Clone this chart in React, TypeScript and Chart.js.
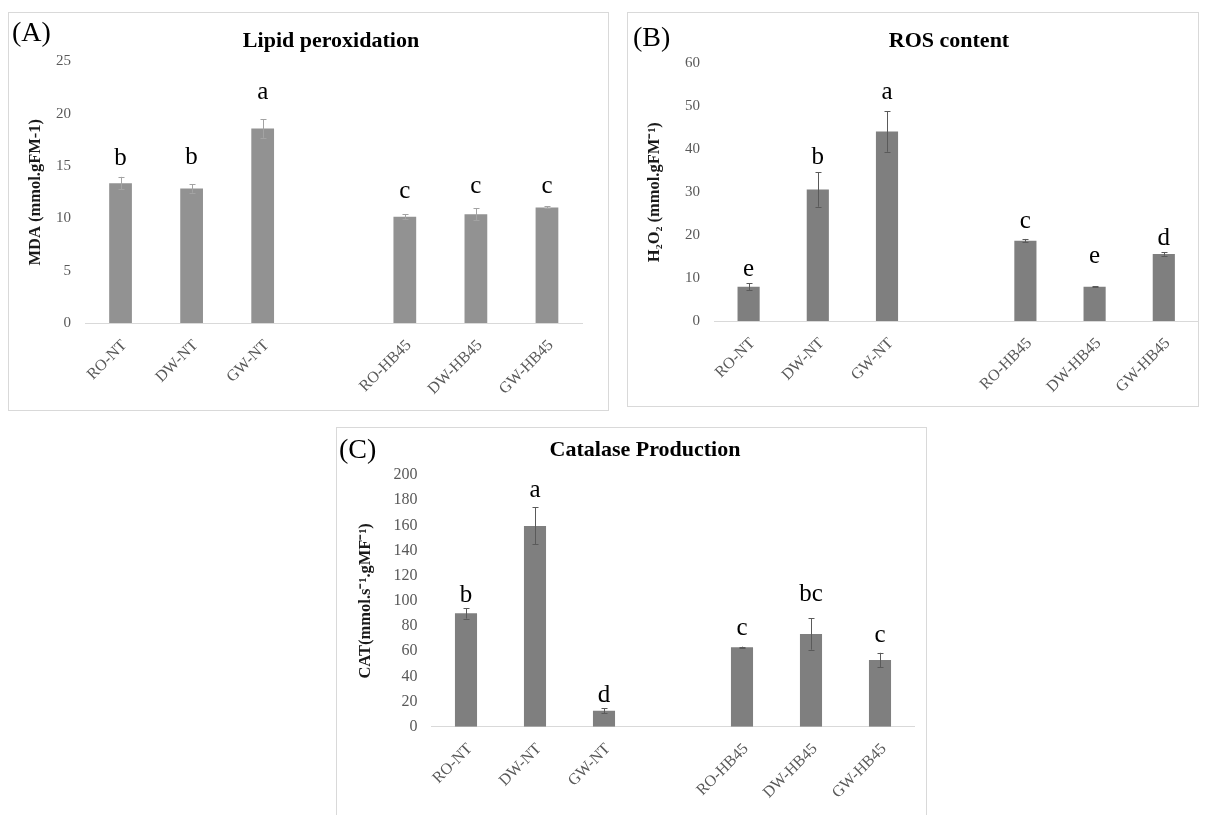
import React, { useEffect, useRef } from 'react';
import { Chart, registerables } from 'chart.js';

Chart.register(...registerables);

const SERIF = '"Liberation Serif", "Times New Roman", serif';

// ---------- data ----------
const categories = ['RO-NT', 'DW-NT', 'GW-NT', 'RO-HB45', 'DW-HB45', 'GW-HB45'];

const mdaMeans = [13.37, 12.85, 18.6, 10.15, 10.4, 11.05];
const mdaErrors = [0.6, 0.4, 0.9, 0.25, 0.55, 0.1];
const mdaLetters = ['b', 'b', 'a', 'c', 'c', 'c'];

const rosMeans = [8.0, 30.6, 44.1, 18.7, 8.0, 15.6];
const rosErrors = [0.8, 4.0, 4.7, 0.4, 0.1, 0.4];
const rosLetters = ['e', 'b', 'a', 'c', 'e', 'd'];

const catMeans = [90.1, 159.5, 12.7, 63.1, 73.6, 53.0];
const catErrors = [4.2, 14.7, 2.0, 0.5, 12.4, 5.7];
const catLetters = ['b', 'a', 'd', 'c', 'bc', 'c'];

// empty category slot between the two treatment groups
function withGap<T>(arr: T[], blank: T): T[] {
  return [...arr.slice(0, 3), blank, ...arr.slice(3)];
}

type PanelProps = {
  left: number; top: number; width: number; height: number;
  yAxisWidth: number; xAxisHeight: number; padTop: number; padRight: number;
  means: number[]; errors: number[]; letters: string[]; letterGaps: number[];
  yMax: number; yStep: number; yTitle: string; yTitlePad: number;
  barColor: string; errColor: string; tickFont: number;
};

function BarPanel(p: PanelProps) {
  const ref = useRef<HTMLCanvasElement>(null);
  useEffect(() => {
    const labels = withGap(categories, '');
    const data = withGap<number | null>(p.means, null);
    const errs = withGap<number | null>(p.errors, null);
    const lets = withGap<string | null>(p.letters, null);
    const gaps = withGap<number | null>(p.letterGaps, null);

    const plugin = {
      id: 'errLetters',
      afterDatasetsDraw(chart: any) {
        const ctx = chart.ctx as CanvasRenderingContext2D;
        const ys = chart.scales.y;
        const meta = chart.getDatasetMeta(0);
        ctx.save();
        meta.data.forEach((el: any, i: number) => {
          const v = data[i];
          if (v == null) return;
          const e = errs[i] as number;
          const x = el.x;
          const yT = ys.getPixelForValue(v + e);
          const yB = ys.getPixelForValue(v - e);
          const xx = Math.round(x) + 0.5;
          ctx.strokeStyle = p.errColor;
          ctx.lineWidth = 1;
          ctx.beginPath();
          ctx.moveTo(xx, yT);
          ctx.lineTo(xx, yB);
          ctx.moveTo(xx - 3, Math.round(yT) + 0.5);
          ctx.lineTo(xx + 3, Math.round(yT) + 0.5);
          ctx.moveTo(xx - 3, Math.round(yB) + 0.5);
          ctx.lineTo(xx + 3, Math.round(yB) + 0.5);
          ctx.stroke();
          ctx.fillStyle = '#000';
          ctx.font = `25px ${SERIF}`;
          ctx.textAlign = 'center';
          ctx.textBaseline = 'alphabetic';
          ctx.fillText(lets[i] as string, x, yT - (gaps[i] as number));
        });
        ctx.restore();
      },
    };

    const chart = new Chart(ref.current as HTMLCanvasElement, {
      type: 'bar',
      data: {
        labels,
        datasets: [
          {
            data: data as any,
            backgroundColor: p.barColor,
            borderWidth: 0,
            barPercentage: 0.32,
            categoryPercentage: 1,
          },
        ],
      },
      options: {
        responsive: false,
        animation: false,
        devicePixelRatio: 1,
        layout: { padding: { left: 0, right: p.padRight, top: p.padTop, bottom: 0 } },
        plugins: {
          legend: { display: false },
          tooltip: { enabled: false },
          title: { display: false },
        },
        scales: {
          x: {
            offset: true,
            grid: { display: false, drawTicks: false },
            border: { display: true, color: '#d9d9d9', width: 1 },
            ticks: {
              autoSkip: false,
              maxRotation: 45,
              minRotation: 45,
              padding: 13,
              labelOffset: 4,
              color: '#595959',
              font: { family: SERIF, size: 16 },
            },
            afterFit: (s: any) => { s.height = p.xAxisHeight; },
          },
          y: {
            min: 0,
            max: p.yMax,
            grid: { display: false, drawTicks: false },
            border: { display: false },
            ticks: {
              stepSize: p.yStep,
              padding: 14,
              color: '#595959',
              font: { family: SERIF, size: p.tickFont },
            },
            title: {
              display: true,
              text: p.yTitle,
              color: '#1a1a1a',
              font: { family: SERIF, size: 16.5, weight: 'bold' },
              padding: { top: p.yTitlePad, bottom: 0 },
            },
            afterFit: (s: any) => { s.width = p.yAxisWidth; },
          },
        },
      } as any,
      plugins: [plugin],
    });
    return () => chart.destroy();
  }, []);

  return (
    <>
      <div
        style={{
          position: 'absolute', left: p.left, top: p.top, width: p.width, height: p.height,
          border: '1px solid #d9d9d9', boxSizing: 'border-box',
        }}
      />
      <canvas
        ref={ref}
        width={p.width}
        height={p.height}
        style={{ position: 'absolute', left: p.left, top: p.top, width: p.width, height: p.height }}
      />
    </>
  );
}

function Txt(props: { x: number; y: number; size: number; bold?: boolean; center?: boolean; children: string }) {
  return (
    <div
      style={{
        position: 'absolute', left: props.x, top: props.y,
        transform: props.center ? 'translate(-50%, -50%)' : 'translate(0, -50%)',
        fontFamily: SERIF, fontSize: props.size, lineHeight: 1,
        fontWeight: props.bold ? 'bold' : 'normal', color: '#000', whiteSpace: 'nowrap',
      }}
    >
      {props.children}
    </div>
  );
}

export default function App() {
  useEffect(() => {
    document.body.style.margin = '0';
  }, []);
  return (
    <div style={{ position: 'absolute', left: 0, top: 0, width: 1205, height: 815, background: '#fff', overflow: 'hidden' }}>
      <BarPanel
        left={8} top={12} width={601} height={399}
        yAxisWidth={77} xAxisHeight={88} padTop={49.5} padRight={26.5}
        means={mdaMeans} errors={mdaErrors} letters={mdaLetters}
        letterGaps={[12, 20, 20, 16, 15, 13]}
        yMax={25} yStep={5} yTitle="MDA (mmol.gFM-1)" yTitlePad={18}
        barColor="#929292" errColor="#a3a3a3" tickFont={15}
      />
      <BarPanel
        left={627} top={12} width={572} height={395}
        yAxisWidth={87} xAxisHeight={86} padTop={51.3} padRight={0.6}
        means={rosMeans} errors={rosErrors} letters={rosLetters}
        letterGaps={[7, 8, 12, 11, 23, 7]}
        yMax={60} yStep={10} yTitle="H₂O₂ (mmol.gFM⁻¹)" yTitlePad={17.5}
        barColor="#7f7f7f" errColor="#5a5a5a" tickFont={15}
      />
      <BarPanel
        left={336} top={427} width={591} height={395}
        yAxisWidth={95.5} xAxisHeight={95.3} padTop={48} padRight={12.5}
        means={catMeans} errors={catErrors} letters={catLetters}
        letterGaps={[6, 10, 6, 12, 17, 11]}
        yMax={200} yStep={20} yTitle="CAT(mmol.s⁻¹.gMF⁻¹)" yTitlePad={20}
        barColor="#7f7f7f" errColor="#5a5a5a" tickFont={16}
      />
      <Txt x={12} y={32} size={28}>(A)</Txt>
      <Txt x={633} y={37} size={28}>(B)</Txt>
      <Txt x={339} y={449} size={28}>(C)</Txt>
      <Txt x={331} y={40} size={22} bold center>Lipid peroxidation</Txt>
      <Txt x={949} y={40} size={22} bold center>ROS content</Txt>
      <Txt x={645} y={449} size={22} bold center>Catalase Production</Txt>
    </div>
  );
}
